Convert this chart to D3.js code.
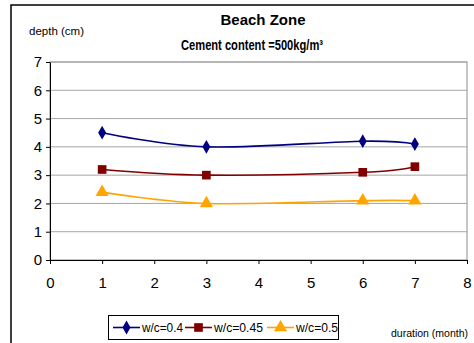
<!DOCTYPE html>
<html lang="en">
<head>
  <meta charset="UTF-8">
  <title>Beach Zone</title>
  <script src="https://d3js.org/d3.v7.min.js"></script>
  <style>
    body { margin: 0; background: #fff; }
    svg { display: block; font-family: "Liberation Sans", Arial, sans-serif; }
  </style>
</head>
<body>

<svg width="474" height="343"></svg>

<script>
  const durations = [1, 3, 6, 7];
  const wc04 = [4.5, 4.0, 4.2, 4.1];
  const wc045 = [3.2, 3.0, 3.1, 3.3];
  const wc05 = [2.4, 2.0, 2.1, 2.1];
  const seriesNames = ["w/c=0.4", "w/c=0.45", "w/c=0.5"];
  const xTicks = [0, 1, 2, 3, 4, 5, 6, 7, 8];
  const yTicks = [0, 1, 2, 3, 4, 5, 6, 7];

  const series = [
    { name: seriesNames[0], values: wc04, color: "#000080", symbol: d3.symbolDiamond },
    { name: seriesNames[1], values: wc045, color: "#800000", symbol: d3.symbolSquare },
    { name: seriesNames[2], values: wc05, color: "#FFA500", symbol: d3.symbolTriangle }
  ];

  const svg = d3.select("svg");

  // chart area border (runs off the right and bottom edge)
  svg.append("rect")
    .attr("x", 11).attr("y", 5)
    .attr("width", 480).attr("height", 360)
    .attr("fill", "none").attr("stroke", "#000").attr("stroke-width", 1.5);

  const x = d3.scaleLinear().domain([0, 8]).range([50, 467]);
  const y = d3.scaleLinear().domain([0, 7]).range([260, 62]);

  // plot area
  svg.append("rect")
    .attr("x", x(0)).attr("y", y(7))
    .attr("width", x(8) - x(0)).attr("height", y(0) - y(7))
    .attr("fill", "#fff").attr("stroke", "#8c8c8c");

  svg.append("g").selectAll("line")
    .data(yTicks.slice(1))
    .join("line")
    .attr("x1", x(0)).attr("x2", x(8))
    .attr("y1", d => y(d)).attr("y2", d => y(d))
    .attr("stroke", "#a6a6a6");

  const yAxis = svg.append("g")
    .attr("transform", `translate(${x(0)},0)`)
    .call(d3.axisLeft(y).tickValues(yTicks).tickFormat(d3.format("d"))
      .tickSize(4).tickPadding(4).tickSizeOuter(0));
  yAxis.select(".domain").attr("stroke", "#000");
  yAxis.selectAll("text").attr("font-size", 15).attr("font-family", "Liberation Sans, Arial");

  const xAxis = svg.append("g")
    .attr("transform", `translate(0,${y(0)})`)
    .call(d3.axisBottom(x).tickValues(xTicks).tickFormat(d3.format("d"))
      .tickSize(4).tickPadding(13).tickSizeOuter(0));
  xAxis.select(".domain").attr("stroke", "#000");
  xAxis.selectAll("text").attr("font-size", 15).attr("font-family", "Liberation Sans, Arial");

  const line = d3.line()
    .x((d, i) => x(durations[i]))
    .y(d => y(d))
    .curve(d3.curveCardinal.tension(0));

  series.forEach(s => {
    svg.append("path")
      .attr("d", line(s.values))
      .attr("fill", "none")
      .attr("stroke", s.color)
      .attr("stroke-width", 1.6);

    svg.append("g").selectAll("path")
      .data(s.values)
      .join("path")
      .attr("transform", (d, i) => `translate(${x(durations[i])},${y(d)})`)
      .attr("d", d3.symbol().type(s.symbol).size(s.symbol === d3.symbolDiamond ? 55 : 75))
      .attr("fill", s.color);
  });

  // titles
  svg.append("text")
    .attr("x", 263).attr("y", 25)
    .attr("text-anchor", "middle")
    .attr("font-size", 15).attr("font-weight", "bold")
    .text("Beach Zone");

  svg.append("text")
    .attr("x", 181).attr("y", 50)
    .attr("font-size", 14).attr("font-weight", "bold")
    .attr("textLength", 142)
    .attr("lengthAdjust", "spacingAndGlyphs")
    .text("Cement content =500kg/m³");

  // axis titles
  svg.append("text").attr("x", 29).attr("y", 35).attr("font-size", 11.5)
    .text("depth (cm)");
  svg.append("text").attr("x", 391).attr("y", 337).attr("font-size", 10.5)
    .text("duration (month)");

  // legend
  const legend = svg.append("g");
  legend.append("rect")
    .attr("x", 108.5).attr("y", 315.5)
    .attr("width", 230).attr("height", 24)
    .attr("fill", "#fff").attr("stroke", "#000");

  const legendX = [113, 185, 267];
  const legendW = [41, 49, 42];
  series.forEach((s, i) => {
    const lx = legendX[i];
    legend.append("line")
      .attr("x1", lx).attr("x2", lx + 27)
      .attr("y1", 327.5).attr("y2", 327.5)
      .attr("stroke", s.color).attr("stroke-width", 1.6);
    legend.append("path")
      .attr("transform", `translate(${lx + 13.5},327.5)`)
      .attr("d", d3.symbol().type(s.symbol).size(s.symbol === d3.symbolDiamond ? 55 : 75))
      .attr("fill", s.color);
    legend.append("text")
      .attr("x", lx + 29).attr("y", 332)
      .attr("font-size", 12)
      .attr("textLength", legendW[i])
      .attr("lengthAdjust", "spacingAndGlyphs")
      .text(s.name);
  });
</script>

</body>
</html>
